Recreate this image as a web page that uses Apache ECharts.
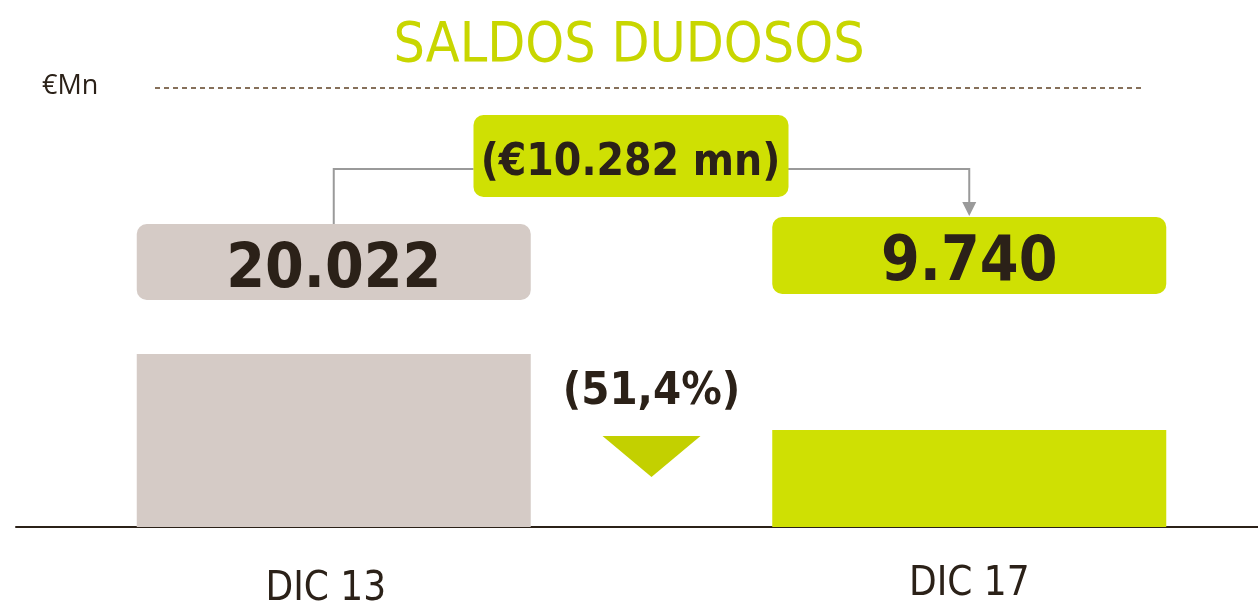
<!DOCTYPE html>
<html>
<head>
<meta charset="utf-8">
<script src="https://cdn.jsdelivr.net/npm/echarts@6/dist/echarts.min.js"></script>
<style>
  html, body { margin: 0; padding: 0; background: #fff; }
  #chart { width: 1258px; height: 602px; }
</style>
</head>
<body>
<div id="chart"></div>
<script>
const categories = ['DIC 13', 'DIC 17']
const values = [20022, 9740]
const valueLabels = ['20.022', '9.740']
const changeLabel = '(€10.282 mn)'
const pctLabel = '(51,4%)'
const unitLabel = '€Mn'
const barColors = ['#d5cbc6', '#cfe003']

const dark = '#2b2118'
const lime = '#cfe003'
const gray = '#9a9a9a'
const condensed = '"DejaVu Sans Condensed", "DejaVu Sans"'

const chart = echarts.init(document.getElementById('chart'))

const option = {
  animation: false,
  title: {
    text: 'SALDOS DUDOSOS',
    left: 'center',
    top: 14,
    textStyle: { fontFamily: condensed, fontSize: 55, fontWeight: 'normal', color: '#c8d600' }
  },
  grid: { left: 16, width: 1271, top: 300, bottom: 75, outerBoundsMode: 'none', containLabel: false },
  xAxis: {
    type: 'category',
    // first label sits a little lower and to the left in the original
    data: [
      { value: categories[0], textStyle: { padding: [5, 16, 0, 0] } },
      { value: categories[1] }
    ],
    axisLine: { onZero: false, lineStyle: { color: dark, width: 2 } },
    axisTick: { show: false },
    axisLabel: { margin: 38, fontFamily: condensed, fontSize: 40, fontWeight: 300, color: dark }
  },
  // log scale so the bar heights match the picture's proportions
  yAxis: { type: 'log', min: 3880, max: 33400, show: false },
  series: [{
    type: 'bar',
    barWidth: 394,
    clip: true,
    data: values.map((v, i) => ({ value: v, itemStyle: { color: barColors[i] } }))
  }]
}
chart.setOption(option)

const c0 = chart.convertToPixel({ seriesIndex: 0 }, [0, values[0]])[0]
const c1 = chart.convertToPixel({ seriesIndex: 0 }, [1, values[1]])[0]
const mid = (c0 + c1) / 2
const half = 197
const topBoxCx = mid - 21

chart.setOption({
  graphic: [
    { type: 'text', left: 42, top: 73, style: { text: unitLabel, fill: dark, fontFamily: 'Open Sans', fontSize: 27 } },
    { type: 'line', shape: { x1: 155, y1: 88, x2: 1142, y2: 88 }, style: { stroke: '#86705a', lineWidth: 2, lineDash: [5, 4] } },
    // connector lines
    { type: 'polyline', shape: { points: [[c0, 224], [c0, 169], [topBoxCx - 157, 169]] }, style: { stroke: gray, lineWidth: 2, fill: null } },
    { type: 'polyline', shape: { points: [[topBoxCx + 157, 169], [c1, 169], [c1, 204]] }, style: { stroke: gray, lineWidth: 2, fill: null } },
    { type: 'polygon', shape: { points: [[c1 - 7, 202], [c1 + 7, 202], [c1, 216]] }, style: { fill: gray } },
    // change box
    { type: 'rect', shape: { x: topBoxCx - 157, y: 115, width: 315, height: 82, r: 10 }, style: { fill: lime } },
    { type: 'text', style: { text: changeLabel, x: topBoxCx, y: 164, align: 'center', verticalAlign: 'middle', fill: dark, fontFamily: condensed, fontWeight: 'bold', fontSize: 44 } },
    // value boxes
    { type: 'rect', shape: { x: c0 - half, y: 224, width: 2 * half, height: 76, r: 10 }, style: { fill: barColors[0] } },
    { type: 'text', style: { text: valueLabels[0], x: c0, y: 271, align: 'center', verticalAlign: 'middle', fill: dark, fontFamily: condensed, fontWeight: 'bold', fontSize: 62 } },
    { type: 'rect', shape: { x: c1 - half, y: 217, width: 2 * half, height: 77, r: 10 }, style: { fill: barColors[1] } },
    { type: 'text', style: { text: valueLabels[1], x: c1, y: 264, align: 'center', verticalAlign: 'middle', fill: dark, fontFamily: condensed, fontWeight: 'bold', fontSize: 62 } },
    // percentage + down triangle
    { type: 'text', style: { text: pctLabel, x: mid, y: 392, align: 'center', verticalAlign: 'middle', fill: dark, fontFamily: condensed, fontWeight: 'bold', fontSize: 45 } },
    { type: 'polygon', shape: { points: [[mid - 49, 436], [mid + 49, 436], [mid, 477]] }, style: { fill: '#c3d000' } }
  ]
})
</script>
</body>
</html>
